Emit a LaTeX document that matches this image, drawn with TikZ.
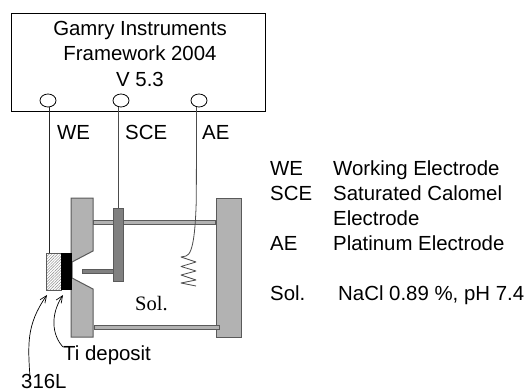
\documentclass[tikz,border=0pt]{standalone}
\usepackage{fontspec}
\setmainfont{Liberation Sans}
\newfontfamily\timesf{Liberation Serif}
\usetikzlibrary{patterns.meta,arrows.meta,shapes.geometric}
\definecolor{blockgray}{HTML}{B2B2B2}
\definecolor{edgegray}{HTML}{5A5A5A}
\definecolor{plategray}{HTML}{808080}
\tikzset{
  lab/.style={anchor=base west,inner sep=0pt,font=\fontsize{20.4}{24}\selectfont},
  boxtxt/.style={anchor=base,inner sep=0pt,font=\fontsize{20.4}{24}\selectfont},
  part/.style={draw=edgegray,line width=1pt,fill=blockgray},
  dark/.style={draw=edgegray,line width=1pt,fill=plategray},
  port/.style={draw=black,line width=0.8pt,fill=white,ellipse,minimum width=16pt,minimum height=13pt,inner sep=0pt},
  wire/.style={line width=0.9pt,draw=black!85},
  pointer/.style={line width=0.7pt,-{Straight Barb[length=7pt,width=6pt]}},
  rect/.style={rectangle,inner sep=0pt,outer sep=0pt,anchor=north west}
}
\begin{document}
\begin{tikzpicture}[x=1pt,y=-1pt]
\useasboundingbox (0,0) rectangle (528,391);
% instrument
\node[rect,draw=black,line width=1pt,minimum width=254pt,minimum height=98pt] (inst) at (11,13) {};
\node[boxtxt] (t1) at (140,35) {Gamry Instruments};
\node[boxtxt] (t2) at (140,60) {Framework 2004};
\node[boxtxt] (t3) at (140,86) {V 5.3};
\node[port] (pwe) at (48,100.5) {};
\node[port] (psce) at (121,100.5) {};
\node[port] (pae) at (199,100.5) {};
\node[lab] (lwe) at (57,139) {WE};
\node[lab] (lsce) at (125,139) {SCE};
\node[lab] (lae) at (202,139) {AE};
% cell
\draw[part] (71,198) -- (93,198) -- (93,251) -- (72,262) -- (72,278) -- (93,289) -- (93,337) -- (71,337) -- cycle;
\node[rect,part,minimum width=24.5pt,minimum height=139pt] (rblock) at (216.5,198) {};
\node[rect,part,minimum width=122pt,minimum height=4.5pt] (rodtop) at (93.5,220) {};
\node[rect,part,minimum width=124.5pt,minimum height=4.5pt] (rodbot) at (94.5,325) {};
\node[rect,dark,minimum width=31pt,minimum height=4.5pt] (rodh) at (82,269) {};
\node[rect,dark,minimum width=10.5pt,minimum height=73pt] (plate) at (113,208) {};
\node[rect,draw=edgegray,line width=0.8pt,pattern={Lines[distance=2pt,angle=45,line width=0.5pt]},pattern color=black!45,minimum width=15.5pt,minimum height=37pt] (sample) at (46,253) {};
\node[rect,fill=black,minimum width=10.5pt,minimum height=37pt] (dep) at (61,253) {};
\node[anchor=base west,inner sep=0pt,font=\timesf\fontsize{20.5}{24}\selectfont] (sol) at (135,310) {Sol.};
% wires
\draw[wire] (pwe.-75) -- (pwe.-75 |- sample.north);
\draw[wire,draw=black!70] (psce.-110) -- (psce.-110 |- plate.north);
\coordinate (coilstart) at (181,257);
\coordinate (coilend) at (196,286);
\draw[wire,draw=black!70,line width=0.8pt,line join=round]
  (pae.-110) -- (196.3,200) .. controls (195.5,225) and (194,254) .. (186,256) -- (coilstart) -- (196,262) -- (181,266.5) -- (196,271) -- (181,275) -- (196,280) -- (181,283) -- (coilend);
% pointers
\node[lab] (ti) at (63,360) {Ti deposit};
\node[lab] (l316) at (21,388.5) {316L};
\coordinate (tiA) at (63,347);
\coordinate (tiB) at (47,295);
\coordinate (tiC) at (63,295);
\coordinate (l3) at (30,378);
\draw[pointer] (l3) .. controls (28,345) and (26,325) .. (tiB);
\draw[pointer] (tiA) .. controls (52,335) and (50,315) .. (tiC);
% legend
\node[lab] (k1) at (270,175) {WE};
\node[lab] (v1) at (333,175) {Working Electrode};
\node[lab] (k2) at (270,200) {SCE};
\node[lab] (v2) at (333,200) {Saturated Calomel};
\node[lab] (v2b) at (333,225) {Electrode};
\node[lab] (k3) at (270,250) {AE};
\node[lab] (v3) at (333,250) {Platinum Electrode};
\node[lab] (k4) at (270,300) {Sol.};
\node[lab] (v4) at (338,300) {NaCl 0.89 \%, pH 7.4};
\end{tikzpicture}
\end{document}
